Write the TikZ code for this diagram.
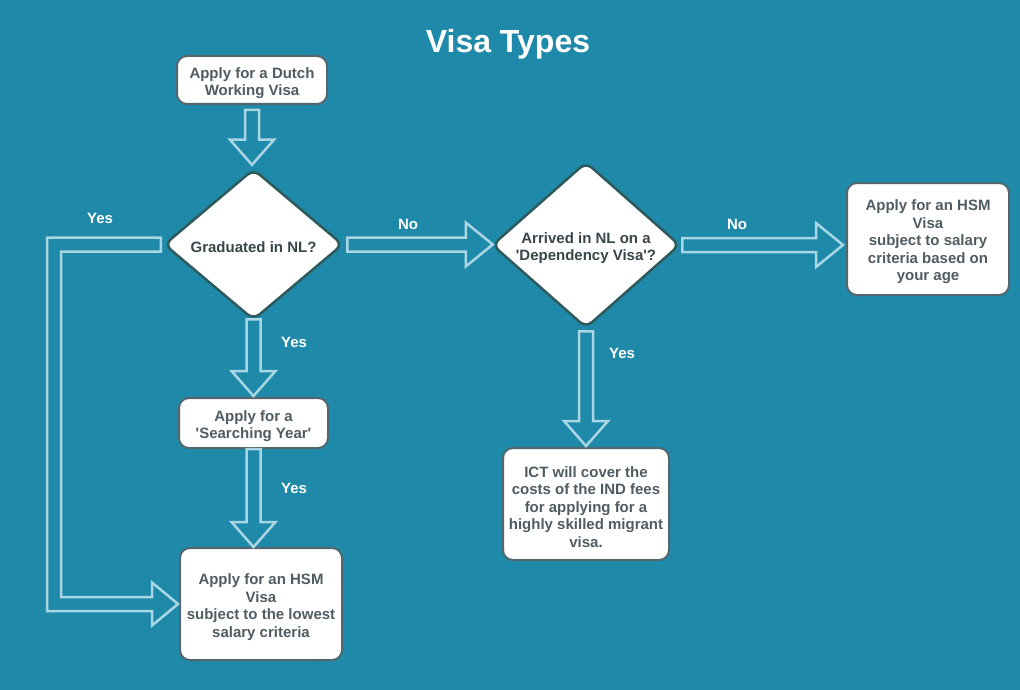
\documentclass[tikz,border=0pt]{standalone}
\usepackage{fontspec}
\setmainfont{Liberation Sans}[Ligatures=TeXOff]
\usetikzlibrary{shapes.geometric,calc}
\definecolor{bgc}{HTML}{1F89A9}
\definecolor{arrowline}{HTML}{A9D6E5}
\definecolor{boxline}{HTML}{53666E}
\definecolor{decline}{HTML}{2E5A5C}
\definecolor{boxtext}{HTML}{505C63}
\definecolor{dectext}{HTML}{38454B}
\newcommand\boxfont{\bfseries\fontsize{15}{17.5}\selectfont}
\newcommand\lblfont{\bfseries\fontsize{15}{18}\selectfont}
\newcommand\titlefont{\bfseries\fontsize{32}{36}\selectfont}
\newcommand\ts{\rule{0pt}{17pt}}
\tikzset{
  box/.style={draw=boxline, line width=2pt, fill=white, rounded corners=10pt,
    align=center, text=boxtext, font=\boxfont, inner sep=0pt},
  dec/.style={diamond, aspect=1.15, draw=decline, line width=2.5pt, fill=white, rounded corners=8pt,
    align=center, text=dectext, font=\boxfont, inner sep=0pt},
  lbl/.style={text=white, font=\lblfont, inner sep=0pt},
  barrow/.style={draw=arrowline, line width=2.5pt, line join=miter}
}
% vertical block arrow: from node #1 (south, gap #3) to node #2 (north, gap #4)
\newcommand\vblock[4]{%
  \draw[barrow] let \p1=($(#1.south)+(0,-#3)$), \p2=($(#2.north)+(0,#4)$) in
    (\x1-7pt,\y1) -- (\x1+7pt,\y1) -- (\x1+7pt,\y2+25pt) -- (\x1+22pt,\y2+25pt)
    -- (\x1,\y2) -- (\x1-22pt,\y2+25pt) -- (\x1-7pt,\y2+25pt) -- cycle;}
% horizontal block arrow: from node #1 (east, gap #3) to node #2 (west, gap #4)
\newcommand\hblock[4]{%
  \draw[barrow] let \p1=($(#1.east)+(#3,0)$), \p2=($(#2.west)+(-#4,0)$) in
    (\x1,\y1+7pt) -- (\x2-27pt,\y1+7pt) -- (\x2-27pt,\y1+22pt) -- (\x2,\y1)
    -- (\x2-27pt,\y1-22pt) -- (\x2-27pt,\y1-7pt) -- (\x1,\y1-7pt) -- cycle;}
\begin{document}
\begin{tikzpicture}[x=1pt,y=1pt]
\fill[bgc] (0,0) rectangle (1020,-690);
\useasboundingbox (0,0) rectangle (1020,-690);

\node[text=white, font=\titlefont] (title) at (508,-44) {Visa Types};

\node[box, minimum width=150pt, minimum height=48pt] (start) at (252,-80)
  {\ts Apply for a Dutch\\Working Visa};
\node[dec, minimum width=179pt, minimum height=151pt] (dia1) at (253.5,-244.5)
  {\ts Graduated in NL?};
\node[dec, minimum width=188pt, minimum height=166pt] (dia2) at (586,-245)
  {\ts Arrived in NL on a\\'Dependency Visa'?};
\node[box, minimum width=162pt, minimum height=112pt] (hsmage) at (928,-239)
  {\ts Apply for an HSM\\Visa\\subject to salary\\criteria based on\\your age};
\node[box, minimum width=166pt, minimum height=112pt] (ict) at (586,-504)
  {\ts ICT will cover the\\costs of the IND fees\\for applying for a\\highly skilled migrant\\visa.};
\node[box, minimum width=149pt, minimum height=50pt] (srch) at (253.5,-423)
  {\ts Apply for a\\'Searching Year'};
\node[box, minimum width=162pt, minimum height=112pt] (hsmlow) at (261,-604)
  {\ts Apply for an HSM\\Visa\\subject to the lowest\\salary criteria};

% block arrows
\vblock{start}{dia1}{5pt}{3pt}
\vblock{dia1}{srch}{-2pt}{1pt}
\vblock{srch}{hsmlow}{0pt}{0pt}
\vblock{dia2}{ict}{2pt}{1pt}
\hblock{dia1}{dia2}{3pt}{-2pt}
\hblock{dia2}{hsmage}{1pt}{3pt}
\draw[barrow] let \p1=($(dia1.west)+(-2,0)$), \p2=($(hsmlow.west)+(-1,0)$) in
  (\x1,\y1+7pt) -- (47pt,\y1+7pt) -- (47pt,\y2-7pt) -- (\x2-26pt,\y2-7pt)
  -- (\x2-26pt,\y2-21.5pt) -- (\x2,\y2) -- (\x2-26pt,\y2+21.5pt)
  -- (\x2-26pt,\y2+7pt) -- (61pt,\y2+7pt) -- (61pt,\y1-7pt) -- (\x1,\y1-7pt) -- cycle;

% labels
\node[lbl] (l1) at (100,-218) {Yes};
\node[lbl] (l2) at (294,-342) {Yes};
\node[lbl] (l3) at (294,-488) {Yes};
\node[lbl] (l4) at (408,-224) {No};
\node[lbl] (l5) at (737,-224) {No};
\node[lbl] (l6) at (622,-353) {Yes};
\end{tikzpicture}
\end{document}
